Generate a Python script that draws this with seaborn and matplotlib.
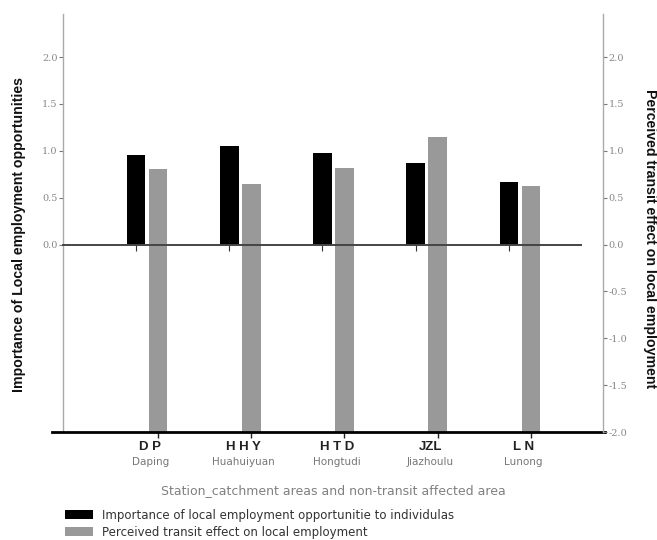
import numpy as np
import pandas as pd
import seaborn as sns
import matplotlib
matplotlib.use("Agg")
import matplotlib.pyplot as plt
import matplotlib.transforms as mtrans

# ---- data ----
codes = ["D P", "H H Y", "H T D", "JZL", "L N"]
names = ["Daping", "Huahuiyuan", "Hongtudi", "Jiazhoulu", "Lunong"]
importance = [0.96, 1.05, 0.98, 0.87, 0.67]          # left axis (black)
perceived = [0.81, 0.65, 0.82, 1.15, 0.62]           # right axis (grey)
left_ticks = [0.0, 0.5, 1.0, 1.5, 2.0]
right_ticks = [-2.0, -1.5, -1.0, -0.5, 0.0, 0.5, 1.0, 1.5, 2.0]
label_imp = "Importance of local employment opportunitie to individulas"
label_per = "Perceived transit effect on local employment"

sns.set_theme(style="white")
plt.rcParams["font.family"] = ["Liberation Sans", "DejaVu Sans"]
plt.rcParams["xtick.bottom"] = True

W, H = 657, 540
fig = plt.figure(figsize=(W / 100, H / 100), dpi=100)
ax_l, ax_r, ax_t, ax_b = 63, 603, 14, 432
ax = fig.add_axes([ax_l / W, 1 - ax_b / H, (ax_r - ax_l) / W, (ax_b - ax_t) / H])

YMIN, YMAX = -2.0, 2.46
idx = np.arange(len(codes))
off = 0.118
barw = 0.2

df_b = pd.DataFrame({"x": idx - off, "y": importance})
df_g = pd.DataFrame({"x": idx + off, "y": np.array(perceived) - YMIN})

sns.barplot(data=df_b, x="x", y="y", native_scale=True, width=barw,
            color="#000000", saturation=1, edgecolor="none", linewidth=0,
            ax=ax, label=label_imp, zorder=3)
sns.barplot(data=df_g, x="x", y="y", native_scale=True, width=barw,
            color="#999999", saturation=1, edgecolor="none", linewidth=0,
            bottom=YMIN, ax=ax, label=label_per, zorder=3)

ax.set_xlim(-0.90, 4.89)
ax.set_ylim(YMIN, YMAX)
ax.set_xlabel("")
ax.set_ylabel("")
if ax.get_legend() is not None:
    ax.get_legend().remove()
ax.grid(False)

# left axis ticks
ax.set_yticks(left_ticks)
ax.set_yticklabels([f"{v:.1f}" for v in left_ticks], family="DejaVu Serif",
                   fontsize=7, color="#888888")
ax.tick_params(axis="y", which="both", left=True, direction="out", length=3,
               width=0.8, color="#777777", pad=1)

# bottom ticks at the grey bars (main x axis)
ax.set_xticks(idx + off)
ax.set_xticklabels([""] * len(codes))
ax.xaxis.set_ticks_position("bottom")
ax.tick_params(axis="x", which="major", bottom=True, top=False,
               direction="out", length=4, width=1.0, color="#222222")

# spines
ax.spines["right"].set_visible(False)
ax.spines["left"].set_color("#aaaaaa")
ax.spines["left"].set_linewidth(1.0)
# bottom axis line, extends slightly beyond the left spine
ax.spines["bottom"].set_color("#000000")
ax.spines["bottom"].set_linewidth(2.0)
ax.spines["bottom"].set_bounds(-1.02, 4.91)
ax.spines["bottom"].set_zorder(5)
# zero line as the top spine moved to y=0
ax.spines["top"].set_position(("data", 0))
ax.spines["top"].set_color("#444444")
ax.spines["top"].set_linewidth(1.4)
ax.spines["top"].set_bounds(-0.90, 4.654)
ax.spines["top"].set_zorder(4)

# ticks under the zero line at black bars
zax = ax.secondary_xaxis((0 - YMIN) / (YMAX - YMIN))
zax.set_xticks(idx - off)
zax.set_xticklabels([""] * len(codes))
zax.tick_params(axis="x", direction="out", length=4, width=0.8, color="#333333")
for s in zax.spines.values():
    s.set_visible(False)

# right axis
ax2 = ax.twinx()
ax2.set_ylim(YMIN, YMAX)
ax2.set_yticks(right_ticks)
ax2.set_yticklabels([f"{v:.1f}" for v in right_ticks], family="DejaVu Serif",
                    fontsize=7, color="#888888")
ax2.tick_params(axis="y", right=True, direction="out", length=3, width=0.8,
                color="#777777", pad=1)
for s in ["left", "top", "bottom"]:
    ax2.spines[s].set_visible(False)
ax2.spines["right"].set_color("#aaaaaa")
ax2.spines["right"].set_linewidth(1.0)
ax2.grid(False)

# category labels
tr = mtrans.blended_transform_factory(ax.transData, fig.transFigure)
for i, (c, n) in enumerate(zip(codes, names)):
    ax.text(i + off - 0.08, 1 - 447 / H, c, transform=tr, ha="center",
            va="center", fontsize=9.5, fontweight="bold", color="#222222")
    ax.text(i + off - 0.08, 1 - 462 / H, n, transform=tr, ha="center",
            va="center", fontsize=7.5, color="#777777", family="DejaVu Sans")

fig.text(333 / W, 1 - 491 / H,
         "Station_catchment areas and non-transit affected area",
         ha="center", va="center", fontsize=9, color="#808080",
         family="DejaVu Sans")

fig.text(19 / W, 1 - 235 / H, "Importance of Local employment opportunities",
         rotation=90, ha="center", va="center", fontsize=10.2,
         fontweight="bold", color="#111111")
fig.text(650 / W, 1 - 239 / H, "Perceived transit effect on local employment",
         rotation=270, ha="center", va="center", fontsize=10.2,
         fontweight="bold", color="#111111")

# legend
handles, labels = ax.get_legend_handles_labels()
fig.legend(handles, labels, loc="upper left",
           bbox_to_anchor=(65 / W, 1 - 509 / H), frameon=False,
           prop={"family": "DejaVu Sans", "size": 8.5},
           handlelength=2.4, handleheight=0.8,
           handletextpad=0.7, labelspacing=0.3, borderpad=0,
           borderaxespad=0, labelcolor="#333333")

fig.savefig("out.png", dpi=100)
